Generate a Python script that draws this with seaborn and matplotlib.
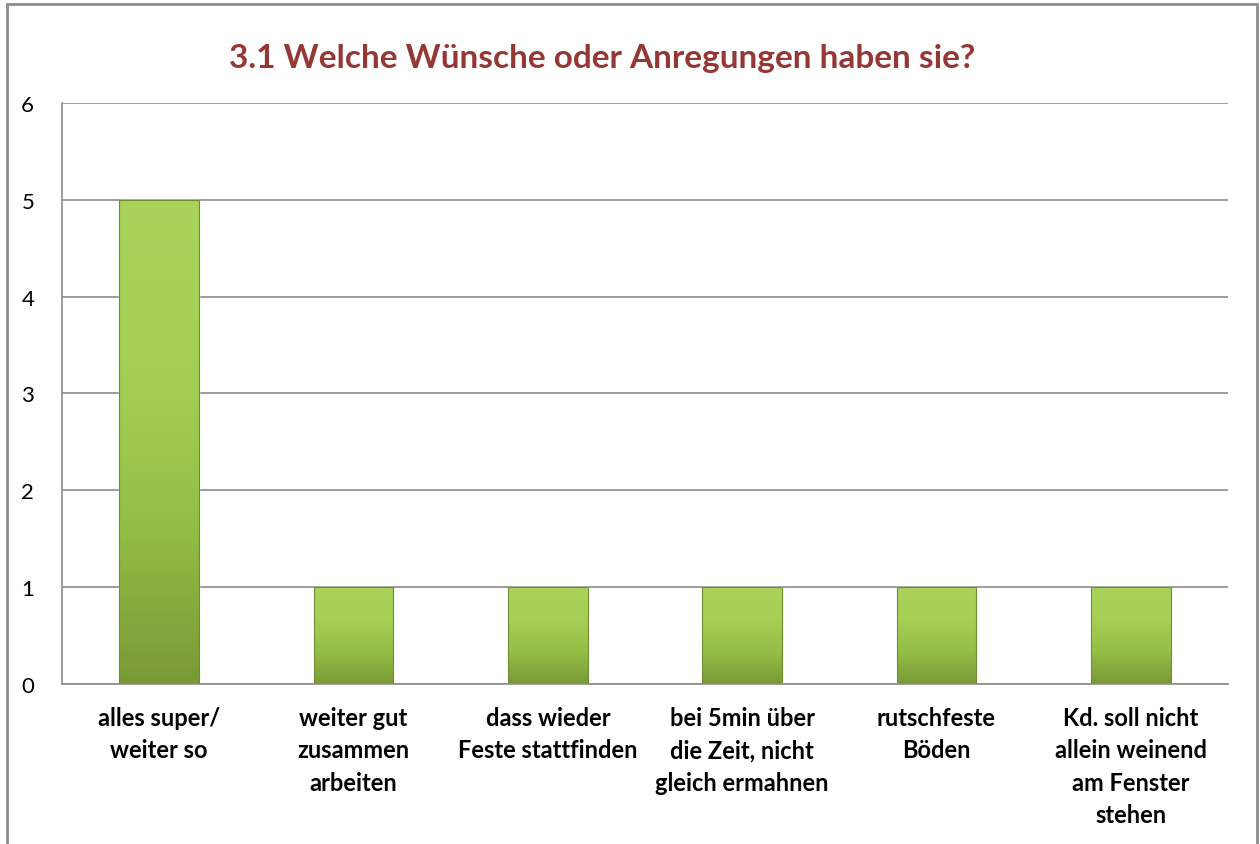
import numpy as np
import pandas as pd
import matplotlib
matplotlib.use('Agg')
import matplotlib.pyplot as plt
from matplotlib.colors import LinearSegmentedColormap
from matplotlib.patches import Rectangle
import seaborn as sns

# Data
categories = [
    'alles super/\nweiter so',
    'weiter gut\nzusammen\narbeiten',
    'dass wieder\nFeste stattfinden',
    'bei 5min über\ndie Zeit, nicht\ngleich ermahnen',
    'rutschfeste\nBöden',
    'Kd. soll nicht\nallein weinend\nam Fenster\nstehen',
]
counts = [5, 1, 1, 1, 1, 1]
title = '3.1 Welche Wünsche oder Anregungen haben sie?'

sns.set_theme(style='white')
plt.rcParams['font.family'] = ['Lato', 'DejaVu Sans']

df = pd.DataFrame({'category': categories, 'count': counts})

fig = plt.figure(figsize=(12.6, 8.45), dpi=100)
ax = fig.add_axes([0.0492, 0.1893, 0.9254, 0.6877])

sns.barplot(data=df, x='category', y='count', color='#92bb45', width=0.41,
            saturation=1, ax=ax)

# green vertical gradient on each bar, lighter at the top
grad = LinearSegmentedColormap.from_list('bargreen', ['#7a9936', '#94bf46', '#a6cf55', '#aad35b'])
ax.set_ylim(0, 6)
for p in ax.patches:
    x0, y0 = p.get_x(), p.get_y()
    w, h = p.get_width(), p.get_height()
    img = ax.imshow(np.linspace(0, 1, 256).reshape(-1, 1), cmap=grad, origin='lower',
                    extent=[x0, x0 + w, y0, y0 + h], aspect='auto', zorder=p.get_zorder() + 0.1)
    img.set_clip_path(p)
    ax.add_patch(Rectangle((x0, y0), w, h, fill=False, edgecolor='#6f8c30',
                           linewidth=0.8, zorder=p.get_zorder() + 0.2))

ax.set_xlim(-0.5, len(categories) - 0.5)
ax.set_yticks(range(0, 7))
ax.yaxis.grid(True, color='#8c8c8c', linewidth=1.2)
ax.set_axisbelow(True)
ax.set_xlabel('')
ax.set_ylabel('')

for side in ['top', 'right']:
    ax.spines[side].set_visible(False)
for side in ['left', 'bottom']:
    ax.spines[side].set_color('#8c8c8c')
    ax.spines[side].set_linewidth(1.2)

ax.tick_params(axis='y', labelsize=16, pad=20, length=0, labelcolor='black')
ax.tick_params(axis='x', labelsize=17, pad=16, length=0, labelcolor='black')
for lbl in ax.get_xticklabels():
    lbl.set_fontweight('bold')
    lbl.set_linespacing(1.48)

fig.text(0.478, 0.931, title, ha='center', va='center', fontsize=24,
         fontweight='bold', color='#953735')

# chart border
fig.patches.append(Rectangle((7 / 1260, -0.02), 1250 / 1260, 1 - 5 / 845 + 0.02,
                             transform=fig.transFigure, fill=False,
                             edgecolor='#8c8c8c', linewidth=2))

fig.savefig('out.png', dpi=100, facecolor='white')
